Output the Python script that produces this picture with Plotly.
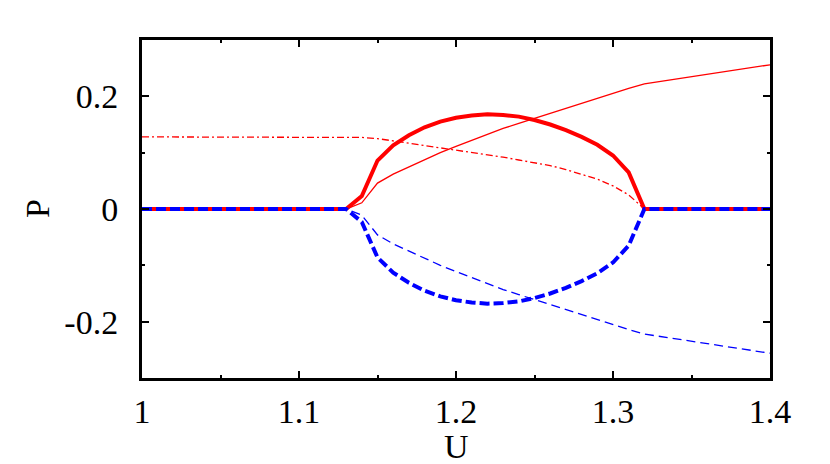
import plotly.graph_objects as go

# U grid shared by every curve
U = [1.00, 1.13, 1.14, 1.15, 1.16, 1.17, 1.18, 1.19, 1.20, 1.21, 1.22,
     1.23, 1.24, 1.25, 1.26, 1.27, 1.28, 1.29, 1.30, 1.31, 1.32, 1.40]

# thick curves (bubble)
P_thick_red = [0, 0, 0.023, 0.086, 0.113, 0.131, 0.145, 0.155, 0.162, 0.166, 0.168,
               0.167, 0.164, 0.158, 0.150, 0.140, 0.128, 0.114, 0.095, 0.065, 0, 0]
P_thick_blue = [0, 0, -0.023, -0.086, -0.113, -0.131, -0.145, -0.155, -0.162, -0.166, -0.168,
                -0.167, -0.164, -0.158, -0.150, -0.140, -0.128, -0.114, -0.095, -0.065, 0, 0]

# thin curves
P_thin_red = [0, 0, 0.011, 0.046, 0.062, 0.075, 0.088, 0.100, 0.111, 0.122, 0.133,
              0.143, 0.152, 0.161, 0.170, 0.179, 0.188, 0.197, 0.206, 0.214, 0.222, 0.256]
P_thin_blue = [0, 0, -0.011, -0.046, -0.062, -0.075, -0.088, -0.100, -0.111, -0.122, -0.133,
               -0.143, -0.152, -0.161, -0.170, -0.179, -0.188, -0.197, -0.206, -0.214, -0.222, -0.256]
P_dashdot = [0.128, 0.128, 0.127, 0.125, 0.121, 0.117, 0.113, 0.109, 0.105, 0.101, 0.097,
             0.092, 0.087, 0.082, 0.077, 0.070, 0.062, 0.053, 0.041, 0.025, 0.0, 0.0]

X_TICKS = [1, 1.1, 1.2, 1.3, 1.4]
X_LABELS = ["1", "1.1", "1.2", "1.3", "1.4"]
Y_TICKS = [-0.2, 0, 0.2]
Y_LABELS = ["-0.2", "0", "0.2"]

RED = "#ff0000"
BLUE = "#0000ff"
FONT = "Liberation Serif, Times New Roman, serif"

fig = go.Figure()
fig.add_trace(go.Scatter(x=U, y=P_thin_red, mode="lines",
                         line=dict(color=RED, width=1.3)))
fig.add_trace(go.Scatter(x=U, y=P_thin_blue, mode="lines",
                         line=dict(color=BLUE, width=1.3, dash="9px,5px")))
fig.add_trace(go.Scatter(x=U, y=P_dashdot, mode="lines",
                         line=dict(color=RED, width=1.3, dash="7px,3px,2px,3px")))
fig.add_trace(go.Scatter(x=U, y=P_thick_red, mode="lines",
                         line=dict(color=RED, width=4)))
fig.add_trace(go.Scatter(x=U, y=P_thick_blue, mode="lines",
                         line=dict(color=BLUE, width=4, dash="10px,4px")))

axis_common = dict(
    showline=True, linecolor="black", linewidth=3, mirror="allticks",
    ticks="inside", ticklen=7, tickwidth=2, tickcolor="black",
    showgrid=False, zeroline=False, automargin=False,
    tickfont=dict(family=FONT, size=34, color="black"),
)

fig.update_xaxes(
    range=[1, 1.4], tickvals=X_TICKS, ticktext=X_LABELS, ticklabelstandoff=1,
    minor=dict(dtick=0.05, ticks="inside", ticklen=3, tickwidth=2, tickcolor="black"),
    **axis_common,
)
fig.update_yaxes(
    range=[-0.3, 0.3], tickvals=Y_TICKS, ticktext=Y_LABELS, ticklabelstandoff=14,
    minor=dict(dtick=0.1, ticks="inside", ticklen=3, tickwidth=2, tickcolor="black"),
    **axis_common,
)

# axis titles placed as annotations so they sit where the original has them
fig.add_annotation(text="U", xref="paper", yref="paper", x=0.5, y=-0.204,
                   xanchor="center", yanchor="middle", showarrow=False,
                   font=dict(family=FONT, size=34, color="black"))
fig.add_annotation(text="P", xref="paper", yref="paper", x=-0.167, y=0.5,
                   xanchor="center", yanchor="middle", showarrow=False, textangle=-90,
                   font=dict(family=FONT, size=34, color="black"))

# the page body adds an 8px margin, so the figure is 8px smaller than the window
fig.update_layout(
    width=822, height=456,
    margin=dict(l=134, r=60, t=32, b=86),
    paper_bgcolor="white", plot_bgcolor="white",
    showlegend=False,
)

fig.write_html("out.html")
